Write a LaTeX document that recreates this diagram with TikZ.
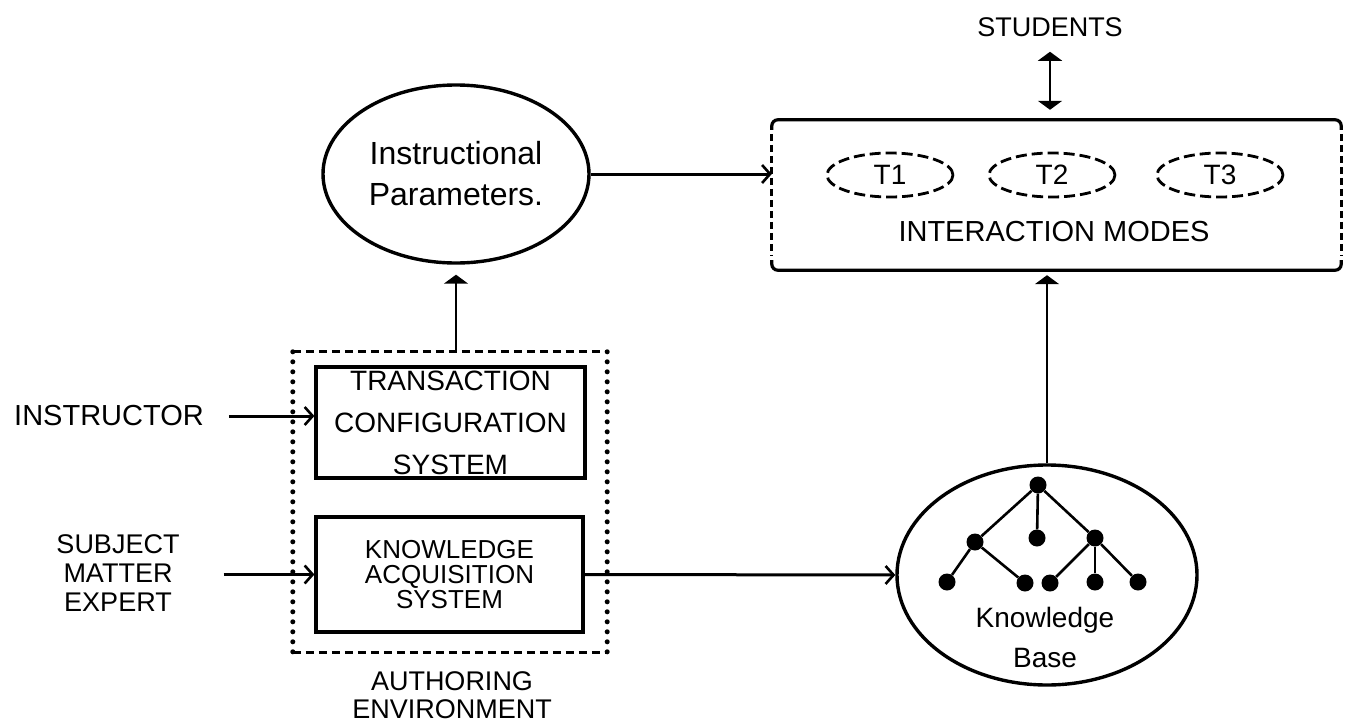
\documentclass[tikz,border=0pt]{standalone}
\usepackage{fontspec}
\setmainfont{Liberation Sans}
\usetikzlibrary{arrows.meta,shapes.geometric,calc}
\begin{document}
\begin{tikzpicture}[x=1pt,y=-1pt,
  txt/.style={inner sep=0pt, align=center},
  sysbox/.style={draw, line width=3.2pt, inner sep=0pt, align=center},
  oval/.style={draw, ellipse, line width=3.4pt, inner sep=0pt, align=center},
  toval/.style={draw, ellipse, line width=2.8pt, dash pattern=on 11pt off 5pt, inner sep=0pt,
                minimum width=126pt, minimum height=44pt, font=\fontsize{28}{28}\selectfont},
  frame/.style={inner sep=0pt},
  dot/.style={circle, fill=black, inner sep=0pt, minimum size=17pt},
  branch/.style={line width=2.6pt},
  harrow/.style={line width=3pt, -{Straight Barb[length=8pt,width=18pt,line width=2.6pt]}},
  varrow/.style={line width=2pt, -{Triangle[length=9pt,width=24pt]}},
  darrow/.style={line width=2pt, {Triangle[length=9pt,width=24pt]}-{Triangle[length=9pt,width=24pt]}}
]
\useasboundingbox (0,0) rectangle (1350,728);

% ---- instructional parameters
\node[oval, minimum width=266pt, minimum height=178pt,
      font=\fontsize{32}{41}\selectfont] (ip) at (456,174) {Instructional\\Parameters.};

% ---- interaction modes frame: solid top and bottom, dashed sides
\node[frame, minimum width=569pt, minimum height=150pt] (im) at (1056.5,195) {};
\draw[line width=3.2pt, rounded corners=6pt]
  ([yshift=-10pt]im.north west) |- (im.north east) -- ([yshift=-10pt]im.north east);
\draw[line width=3.2pt, rounded corners=6pt]
  ([yshift=10pt]im.south west) |- (im.south east) -- ([yshift=10pt]im.south east);
\draw[line width=2.8pt, dash pattern=on 7pt off 4pt]
  ([yshift=-14pt]im.north west) -- ([yshift=14pt]im.south west);
\draw[line width=2.8pt, dash pattern=on 7pt off 4pt]
  ([yshift=-14pt]im.north east) -- ([yshift=14pt]im.south east);

\node[toval] (t1) at (890,175) {T1};
\node[toval] (t2) at (1052,175) {T2};
\node[toval] (t3) at (1220,175) {T3};
\node[txt, font=\fontsize{29}{29}\selectfont] (imlabel) at (1054,232) {INTERACTION MODES};

% ---- students
\node[txt, font=\fontsize{27}{27}\selectfont] (stu) at (1050,27) {STUDENTS};

% ---- authoring environment: dashed top and bottom, dotted sides
\node[frame, minimum width=314pt, minimum height=300pt] (auth) at (450,502) {};
\draw[line width=3pt, dash pattern=on 8pt off 5pt] (auth.north west) -- (auth.north east);
\draw[line width=3pt, dash pattern=on 8pt off 5pt] (auth.south west) -- (auth.south east);
\draw[line width=5pt, line cap=round, dash pattern=on 0pt off 10pt] (auth.north west) -- (auth.south west);
\draw[line width=5pt, line cap=round, dash pattern=on 0pt off 10pt] (auth.north east) -- (auth.south east);

\node[sysbox, minimum width=269pt, minimum height=111pt,
      font=\fontsize{28}{42}\selectfont] (tcs) at (450.5,422.5)
      {TRANSACTION\\CONFIGURATION\\SYSTEM};
\node[sysbox, minimum width=267pt, minimum height=115pt,
      font=\fontsize{26}{25}\selectfont] (kas) at (449.5,574.5)
      {KNOWLEDGE\\ACQUISITION\\SYSTEM};
\node[txt, font=\fontsize{27}{28}\selectfont] (authlabel) at (452,695) {AUTHORING\\ENVIRONMENT};

% ---- external actors
\node[txt, font=\fontsize{29}{29}\selectfont] (instr) at (109,416) {INSTRUCTOR};
\node[txt, font=\fontsize{27}{29}\selectfont] (sme) at (118,573) {SUBJECT\\MATTER\\EXPERT};

% ---- knowledge base
\node[oval, minimum width=300pt, minimum height=220pt] (kb) at (1047,575) {};
\node[dot] (r)  at (1038,485) {};
\node[dot] (a)  at (975,542) {};
\node[dot] (b)  at (1037,538) {};
\node[dot] (c)  at (1095,538) {};
\node[dot] (l1) at (947,582) {};
\node[dot] (l2) at (1025,583) {};
\node[dot] (l3) at (1050,583) {};
\node[dot] (l4) at (1095,582) {};
\node[dot] (l5) at (1138,582) {};
\draw[branch] (r) -- (a);
\draw[branch] (r) -- (b);
\draw[branch] (r) -- (c);
\draw[branch] (a) -- (l1);
\draw[branch] (a) -- (l2);
\draw[branch] (c) -- (l3);
\draw[branch] (c) -- (l4);
\draw[branch] (c) -- (l5);
\node[txt, font=\fontsize{28}{40}\selectfont] (kblabel) at (1045,637) {Knowledge\\Base};

% ---- connectors
\draw[harrow] (ip.east) -- (ip.east -| im.west);
\draw[varrow, shorten >=10pt] (ip.south |- auth.north) -- (ip.south);
\draw[harrow, shorten <=25pt] (instr.east) -- (instr.east -| tcs.west);
\draw[harrow, shorten <=44pt] (sme.east |- kas.west) -- (kas.west);
\draw[harrow] (kas.east) -- (kb.west);
\draw[varrow, shorten >=5pt] (kb.north) -- (kb.north |- im.south);
\draw[darrow, shorten <=15pt, shorten >=10pt] (stu.south) -- (stu.south |- im.north);
\end{tikzpicture}
\end{document}
